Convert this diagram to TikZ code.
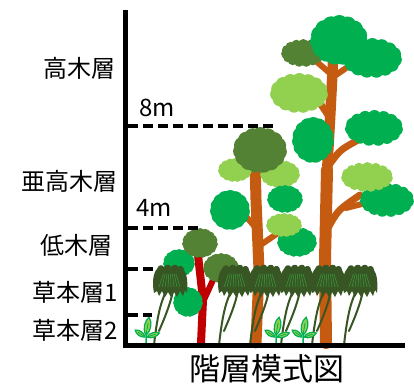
\documentclass[tikz,border=0pt]{standalone}
\usepackage{fontspec}
\setmainfont{Noto Sans CJK JP}
\definecolor{cgreen}{HTML}{00B050}
\definecolor{clight}{HTML}{92D050}
\definecolor{cdark}{HTML}{548235}
\definecolor{cgrass}{HTML}{375623}
\definecolor{cstreak}{HTML}{3C9A40}
\definecolor{ctrunk}{HTML}{C55A11}
\definecolor{cred}{HTML}{C00000}

% a bumpy canopy: centre x, centre y, half width, half height, colour
\newcommand\treecloud[5]{%
  \pgfmathsetmacro\cldr{0.36*min(#3,#4)}%
  \fill[#5] (#1,#2) ellipse [x radius={(#3-\cldr)*1pt}, y radius={(#4-\cldr)*1pt}];
  \foreach \a in {0,24,...,336}
    \fill[#5] ({#1+(#3-\cldr)*cos(\a+7)},{#2+(#4-\cldr)*sin(\a+7)}) circle[radius=\cldr pt];
}

% a clump of grass with its stems: centre x, top y
\newcommand\grassclump[2]{%
  \begin{scope}[shift={(#1,#2)}]
    \draw[stem] (-4,26) .. controls (-8,36) and (-12,44) .. (-16,80);
    \draw[stem] (3,26) .. controls (0,40) and (-5,52) .. (-11,66);
    \fill[cgrass] (-16,28) .. controls (-18,18) and (-17,8) .. (-13,4)
      .. controls (-12,0) and (-8,-1) .. (-6,2)
      .. controls (-4,-1) and (0,-1) .. (1,2)
      .. controls (3,-1) and (7,-1) .. (8,2)
      .. controls (10,0) and (14,1) .. (14,5)
      .. controls (17,9) and (18,18) .. (17,28)
      -- (15,25) -- (13,31) -- (10,26) -- (7,32) -- (4,27) -- (1,32)
      -- (-2,27) -- (-5,32) -- (-8,26) -- (-11,31) -- (-13,26) -- cycle;
    \foreach \i in {-11,-8,...,12}
      \draw[cstreak, line width=0.5pt] ({\i*0.6},9) -- (\i,22);
  \end{scope}
}

% one leaf: base x, base y, turn, length, half width
\newcommand\leaf[5]{%
  \begin{scope}[shift={(#1,#2)}, rotate=#3]
    \filldraw[fill=clight, draw=cgreen, line width=1.2pt]
      (0,0) .. controls (#5,{-0.3*#4}) and ({0.7*#5},{-0.8*#4}) .. (0,-#4)
      .. controls ({-0.7*#5},{-0.8*#4}) and (-#5,{-0.3*#4}) .. cycle;
    \draw[cgreen, line width=0.8pt] (0,-1) -- (0,{-0.7*#4});
  \end{scope}
}

% a seedling standing on the ground line at x
\newcommand\sprout[1]{%
  \draw[cgreen, line width=1.5pt] (#1,343) -- ({#1+0.5},334);
  \leaf{#1}{335}{-10}{18}{5}
  \leaf{#1-1}{337}{55}{12}{3.6}
  \leaf{#1+1}{337}{-72}{13}{3.6}
}

\begin{document}
\begin{tikzpicture}[x=1pt, y=-1pt,
  trunk/.style={draw=ctrunk, line cap=round, line join=round},
  redtrunk/.style={draw=cred, line cap=round, line join=round},
  stem/.style={draw=cgrass, line width=2pt, line cap=round},
  axis/.style={line width=5.5pt},
  level/.style={dashed, dash pattern=on 10pt off 5pt, line width=3.5pt},
  lbl/.style={font=\fontsize{24}{28}\selectfont, inner sep=0pt},
  title/.style={font=\fontsize{31}{36}\selectfont, inner sep=0pt}]
\useasboundingbox (0,0) rectangle (414,383);

% tall tree: trunk and branches
\draw[trunk, line width=12pt] (326,343) -- (325,260) -- (327,170);
\draw[trunk, line width=10.5pt] (327,172) -- (330,120) -- (333,62);
\draw[trunk, line width=7pt] (330,118) -- (318,100);
\draw[trunk, line width=7pt] (329,165) .. controls (340,150) .. (358,140);
\draw[trunk, line width=7pt] (328,228) .. controls (338,210) .. (360,195);
\draw[trunk, line width=6pt] (346,208) -- (362,204);
\draw[trunk, line width=6pt] (332,75) -- (317,62);
\draw[trunk, line width=6pt] (336,75) -- (349,66);

% tall tree: canopies
\treecloud{303}{53}{22}{14}{cdark}
\treecloud{339}{40}{29}{25}{cgreen}
\treecloud{372}{58}{30}{20}{cgreen}
\treecloud{299}{93}{29}{20}{clight}
\treecloud{313}{140}{21}{23}{cgreen}
\treecloud{374}{128}{29}{18}{cgreen}
\treecloud{387}{200}{27}{17}{cgreen}
\treecloud{367}{177}{26}{15}{clight}

% middle tree: trunk and branches
\draw[trunk, line width=11pt] (256,343) -- (259,270) -- (256,200) -- (255,160);
\draw[trunk, line width=6pt] (256,228) -- (243,213);
\draw[trunk, line width=6pt] (259,246) -- (278,233);

% middle tree: canopies
\treecloud{235}{170}{17}{12}{clight}
\treecloud{280}{174}{20}{14}{clight}
\treecloud{260}{150}{27}{23}{cdark}
\treecloud{230}{210}{20}{20}{cgreen}
\treecloud{285}{199}{18}{14}{cgreen}
\treecloud{297}{242}{20}{15}{cgreen}
\treecloud{284}{225}{18}{12}{clight}

% small tree with the red trunk
\draw[redtrunk, line width=8pt] (201,343) -- (203,300) -- (198,255);
\draw[redtrunk, line width=6pt] (203,302) -- (213,280);
\treecloud{179}{263}{16}{14}{cgreen}
\treecloud{221}{268}{18}{15}{cdark}
\treecloud{200}{243}{18}{15}{cdark}
\treecloud{188}{302}{15}{15}{cgreen}

% herb layer
\grassclump{170}{265}
\grassclump{235}{265}
\grassclump{266}{265}
\grassclump{297}{265}
\grassclump{328}{265}
\grassclump{360}{265}

% seedlings
\sprout{146}
\sprout{276}
\sprout{303}

% axes and layer limits
\coordinate (top) at (125.5,10);
\coordinate (origin) at (125.5,345.5);
\coordinate (xend) at (405,345.5);
\draw[axis] (top) -- (origin);
\draw[axis] (122.7,345.5) -- (xend);
\coordinate (h8a) at (128,126);  \coordinate (h8b) at (277,126);
\coordinate (h4a) at (128,228);  \coordinate (h4b) at (200,228);
\coordinate (h1a) at (128,269);  \coordinate (h1b) at (157,269);
\coordinate (h2a) at (128,315);  \coordinate (h2b) at (152,315);
\draw[level] (h8a) -- (h8b);
\draw[level] (h4a) -- (h4b);
\draw[level] (h1a) -- (h1b);
\draw[level] (h2a) -- (h2b);

% labels
\node[lbl, anchor=east] (tall) at (116,68) {高木層};
\node[lbl, anchor=east] (subtall) at (118,181) {亜高木層};
\node[lbl, anchor=east] (shrub) at (113,245) {低木層};
\node[lbl, anchor=east] (herb1) at (118,292) {草本層1};
\node[lbl, anchor=east] (herb2) at (118,330) {草本層2};
\node[lbl, anchor=west] (m8) at (139,108) {8m};
\node[lbl, anchor=west] (m4) at (136,208) {4m};
\node[title] (caption) at (267,369) {階層模式図};
\end{tikzpicture}
\end{document}
